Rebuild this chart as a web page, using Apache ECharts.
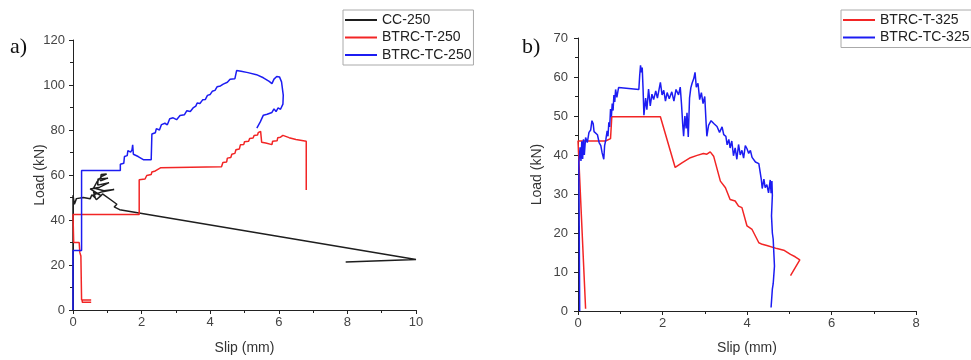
<!DOCTYPE html>
<html>
<head>
<meta charset="utf-8">
<script src="https://cdn.jsdelivr.net/npm/echarts@6/dist/echarts.min.js"></script>
<style>
  html, body { margin: 0; padding: 0; background: #fff; }
  #chart { width: 971px; height: 360px; }
</style>
</head>
<body>
<div id="chart"></div>
<script>
// Push-out test curves: [slip (mm), load (kN)]
const cc250 = [
  [0, 0], [0, 51], [0.04, 47], [0.1, 49.5], [0.3, 50], [0.5, 49.4], [0.55, 51.2], [0.65, 49.8],
  [0.6, 52.5], [0.8, 51], [0.5, 53.8], [0.78, 54.6], [1.05, 56.6], [0.72, 55.5], [0.73, 58.2],
  [1.02, 58.6], [0.8, 57.4], [0.82, 60.2], [0.98, 60.4], [0.84, 59.4], [0.7, 57], [0.6, 54.2],
  [0.9, 53], [1.2, 53.6], [0.82, 52.4], [0.6, 51.2], [0.68, 49], [0.8, 50.6], [0.86, 51.6],
  [1.1, 49], [1.28, 47], [1.2, 45.8], [1.36, 44.6], [10, 22.4], [10, 21.6], [7.95, 21.3]
];
const btrcT250 = [
  [0.53, 3.4], [0.27, 3.4], [0.27, 4.5], [0.53, 4.5], [0.25, 4.5], [0.23, 24], [0.2, 25.5],
  [0.18, 30], [0.02, 30], [0, 42.5], [1.93, 42.5], [1.93, 57.9], [2.1, 58.2], [2.15, 59.8],
  [2.28, 60.2], [2.3, 61.3], [2.4, 61.8], [2.45, 62.6], [2.55, 63.2], [2.58, 63.8], [4.33, 63.7],
  [4.37, 65.6], [4.48, 65.8], [4.5, 67.5], [4.6, 67.8], [4.63, 69.2], [4.72, 69.6], [4.75, 71.2],
  [4.85, 71.6], [4.88, 73.4], [4.98, 73.6], [5.0, 74.8], [5.12, 75], [5.15, 76.2], [5.25, 76.4],
  [5.28, 77.6], [5.38, 77.8], [5.4, 78.8], [5.47, 79.4], [5.5, 74.6], [5.62, 74.2], [5.65, 73.5],
  [5.8, 73.5], [5.82, 75], [5.95, 75.2], [5.97, 76.6], [6.05, 76.8], [6.12, 77.6], [6.3, 76.6],
  [6.5, 75.8], [6.8, 75], [6.8, 53.3]
];
const btrcTC250 = [
  [0, 0], [0, 26.5], [0.25, 26.5], [0.25, 62], [1.38, 62], [1.38, 64.8], [1.48, 65.2], [1.5, 68.2],
  [1.58, 68.6], [1.6, 70.8], [1.68, 70.2], [1.72, 71.2], [1.74, 73.4], [1.76, 69.2], [1.9, 68.2],
  [2.05, 66.8], [2.28, 66.8], [2.3, 78.2], [2.4, 78.8], [2.43, 80.6], [2.52, 80], [2.58, 82.4],
  [2.68, 83], [2.75, 82.3], [2.82, 85], [2.92, 85.4], [3.02, 84.6], [3.12, 86.4], [3.25, 86.8],
  [3.32, 88.6], [3.42, 88.2], [3.5, 89.8], [3.58, 90.6], [3.62, 92], [3.7, 91.8], [3.78, 93.4],
  [3.86, 93.6], [3.92, 95.4], [4.0, 95.8], [4.06, 97.2], [4.14, 97.6], [4.2, 99.2], [4.3, 99.6],
  [4.38, 100.4], [4.5, 101.2], [4.58, 102.6], [4.72, 102.8], [4.77, 106.4], [4.9, 106.1],
  [5.1, 105.5], [5.35, 104.6], [5.55, 103.2], [5.72, 101.6], [5.8, 100.6], [5.86, 102.6],
  [5.94, 103.8], [6.02, 103.6], [6.08, 101.4], [6.13, 95.5], [6.12, 91.5], [6.05, 89.2],
  [5.98, 89.8], [5.92, 88.2], [5.86, 89.4], [5.8, 87.8], [5.66, 87], [5.55, 86.6], [5.46, 83.6],
  [5.36, 80.8]
];
const btrcT325 = [
  [0.18, 0.6], [0.0, 43.6], [0.65, 43.6], [0.77, 44.2], [0.8, 44.4], [0.8, 49.8], [1.95, 49.8],
  [1.98, 50.1], [2.3, 36.8], [2.46, 38], [2.66, 39.3], [2.82, 39.9], [2.97, 40.4], [3.05, 40.2],
  [3.13, 40.8], [3.21, 39.7], [3.37, 33.3], [3.49, 31.6], [3.6, 28.6], [3.72, 28.2], [3.8, 26.9],
  [3.88, 26.5], [4.0, 21.8], [4.12, 20.9], [4.28, 17.5], [4.36, 17.1], [4.47, 16.8], [4.71, 16],
  [4.87, 15.6], [5.03, 14.5], [5.14, 13.9], [5.25, 13.1], [5.03, 9.1]
];
const btrcTC325 = [
  [0.04, 0], [0.03, 20], [0.02, 38], [0.05, 42], [0.07, 38.5], [0.09, 43.5], [0.11, 39],
  [0.13, 44], [0.15, 40], [0.18, 44.5], [0.22, 43.2], [0.26, 45.8], [0.3, 46.4], [0.33, 48.8],
  [0.36, 48], [0.38, 46], [0.42, 45.6], [0.46, 45.2], [0.5, 43.2], [0.54, 42.4], [0.57, 40.6],
  [0.61, 38.9], [0.63, 42.4], [0.66, 44], [0.69, 46.2], [0.71, 44.8], [0.73, 48.4], [0.75, 47.2],
  [0.77, 51.8], [0.79, 49.8], [0.81, 53.2], [0.83, 51.4], [0.85, 55.4], [0.87, 53.6], [0.89, 56.8],
  [0.92, 54.8], [0.96, 57.3], [1.44, 56.8], [1.46, 60.4], [1.48, 63], [1.5, 61.2], [1.52, 62.4],
  [1.54, 57], [1.56, 50.2], [1.6, 54.6], [1.63, 51.6], [1.67, 56.9], [1.71, 52.6], [1.75, 55.6],
  [1.79, 54.2], [1.84, 56.4], [1.88, 54.6], [1.95, 58.6], [1.99, 55.4], [2.03, 56.6], [2.07, 53.8],
  [2.11, 56], [2.16, 54.4], [2.22, 56.2], [2.27, 53.8], [2.32, 56.8], [2.38, 55.4], [2.42, 57.4],
  [2.45, 53], [2.48, 47.6], [2.5, 44.8], [2.53, 50], [2.56, 46.8], [2.58, 50.8], [2.61, 44.6],
  [2.64, 54.6], [2.67, 57.2], [2.7, 58.4], [2.74, 59.6], [2.77, 61.2], [2.8, 57.4], [2.84, 58.4],
  [2.88, 54.2], [2.92, 56], [2.96, 53.2], [3.0, 55], [3.03, 48.6], [3.05, 44.8], [3.09, 47.6],
  [3.15, 48.8], [3.22, 48], [3.29, 47.3], [3.35, 45.8], [3.41, 47.2], [3.45, 45.2], [3.5, 44.8],
  [3.53, 42.6], [3.57, 44], [3.6, 41.8], [3.64, 43.6], [3.68, 39.8], [3.72, 41.8], [3.76, 38.9],
  [3.8, 42.7], [3.84, 40], [3.88, 41.2], [3.92, 39.2], [3.96, 42.4], [4.0, 41.6], [4.04, 40.4],
  [4.08, 41.2], [4.12, 39.4], [4.16, 39.8], [4.2, 38.2], [4.24, 38.2], [4.28, 37.8], [4.32, 37.4],
  [4.34, 33.6], [4.36, 31.4], [4.4, 33.8], [4.43, 31.6], [4.47, 32.4], [4.51, 30.3], [4.55, 33.6],
  [4.57, 30.2], [4.59, 33.3], [4.6, 29.6], [4.58, 24.4], [4.6, 20], [4.62, 18.4], [4.65, 11.5],
  [4.62, 7], [4.6, 5.6], [4.57, 0.9]
];

const labelA = 'a)';
const labelB = 'b)';
const legendLeft = ['CC-250', 'BTRC-T-250', 'BTRC-TC-250'];
const legendRight = ['BTRC-T-325', 'BTRC-TC-325'];

const BLACK = '#1e1e1e', RED = '#f22525', BLUE = '#1c1cf2';
const FONT = '"Liberation Sans", Arial, sans-serif';

function xAxisCfg(gridIndex, max, gap) {
  return {
    type: 'value', gridIndex, min: 0, max, interval: 2,
    name: 'Slip (mm)', nameLocation: 'middle', nameGap: gap, nameMoveOverlap: false,
    nameTextStyle: { fontFamily: FONT, fontSize: 14, color: '#333' },
    axisLine: { show: true, onZero: false, lineStyle: { color: '#222', width: 1 } },
    axisTick: { show: true, inside: false, length: 4, lineStyle: { color: '#222' } },
    minorTick: { show: true, splitNumber: 2, length: 3, lineStyle: { color: '#222' } },
    axisLabel: { fontFamily: FONT, fontSize: 13, color: '#444', margin: 6 },
    splitLine: { show: false }
  };
}
function yAxisCfg(gridIndex, max, interval, gap, margin) {
  return {
    type: 'value', gridIndex, min: 0, max, interval,
    name: 'Load (kN)', nameLocation: 'middle', nameGap: gap, nameRotate: 90, nameMoveOverlap: false,
    nameTextStyle: { fontFamily: FONT, fontSize: 14, color: '#333' },
    axisLine: { show: true, onZero: false, lineStyle: { color: '#222', width: 1 } },
    axisTick: { show: true, inside: false, length: 4, lineStyle: { color: '#222' } },
    minorTick: { show: true, splitNumber: 2, length: 3, lineStyle: { color: '#222' } },
    axisLabel: { fontFamily: FONT, fontSize: 13, color: '#444', margin },
    splitLine: { show: false }
  };
}
function lineSeries(name, data, color, idx) {
  return {
    name, type: 'line', data, xAxisIndex: idx, yAxisIndex: idx,
    showSymbol: false, symbol: 'none', animation: false,
    lineStyle: { color, width: 1.5 }, itemStyle: { color }
  };
}
function legendCfg(data, left, top) {
  return {
    data, left, top, orient: 'vertical', icon: 'rect', itemWidth: 32, itemHeight: 2,
    itemGap: 1.5, padding: [2, 2, 2, 2], borderColor: '#aaa', borderWidth: 1,
    textStyle: { fontFamily: FONT, fontSize: 14, color: '#222', lineHeight: 16, padding: [0, 0, 0, 0] },
    selectedMode: false
  };
}

const chart = echarts.init(document.getElementById('chart'), null, { renderer: 'canvas' });
chart.setOption({
  backgroundColor: '#fff',
  animation: false,
  grid: [
    { left: 73, top: 40, width: 343, height: 276 },
    { left: 578, top: 38, width: 338, height: 274 }
  ],
  xAxis: [xAxisCfg(0, 10, 31), xAxisCfg(1, 8, 30)],
  yAxis: [yAxisCfg(0, 120, 20, 26, 8), yAxisCfg(1, 70, 10, 34, 10)],
  legend: [legendCfg(legendLeft, 343, 10), legendCfg(legendRight, 841, 10)],
  series: [
    lineSeries('CC-250', cc250, BLACK, 0),
    lineSeries('BTRC-T-250', btrcT250, RED, 0),
    lineSeries('BTRC-TC-250', btrcTC250, BLUE, 0),
    lineSeries('BTRC-T-325', btrcT325, RED, 1),
    lineSeries('BTRC-TC-325', btrcTC325, BLUE, 1)
  ],
  graphic: [
    { type: 'text', left: 10, top: 36, style: { text: labelA, font: '22px "Liberation Serif", "Times New Roman", serif', fill: '#111' } },
    { type: 'text', left: 522, top: 36, style: { text: labelB, font: '22px "Liberation Serif", "Times New Roman", serif', fill: '#111' } }
  ]
});
</script>
</body>
</html>
